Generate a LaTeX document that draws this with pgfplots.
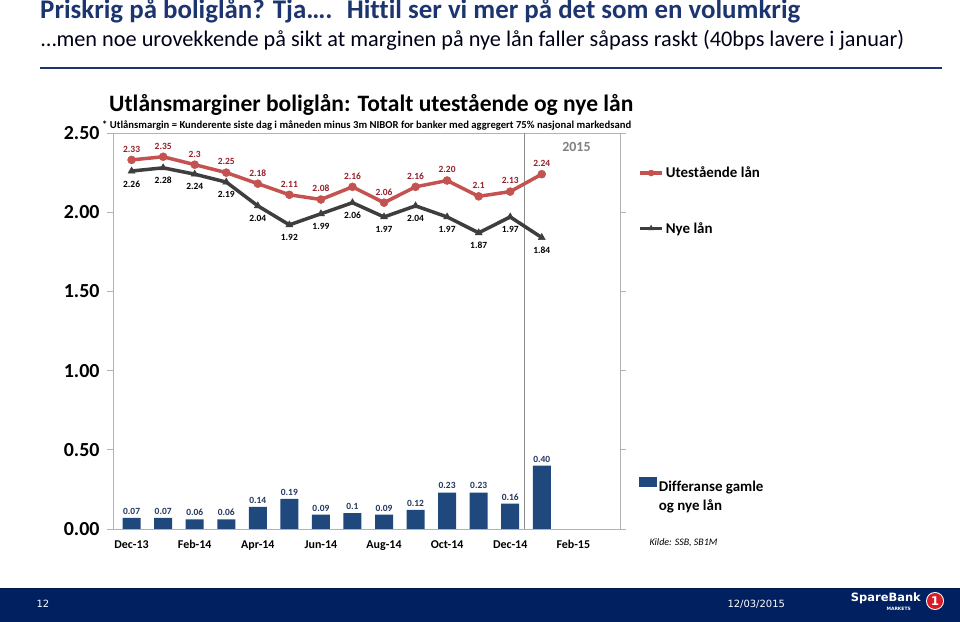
\documentclass[border=0pt]{standalone}
\usepackage{pgfplots}
\pgfplotsset{compat=1.18}
\usepackage{pgfplotstable}
\usepackage{graphicx}
\usepackage{fontspec}
\setmainfont{Carlito}[Ligatures=NoCommon]
\newfontfamily\dejavu{DejaVu Sans}
\definecolor{titleblue}{RGB}{28,52,112}
\definecolor{footnavy}{RGB}{0,32,96}
\definecolor{redline}{RGB}{196,82,80}
\definecolor{redlbl}{RGB}{150,32,42}
\definecolor{grayline}{RGB}{62,62,62}
\definecolor{barblue}{RGB}{31,73,125}
\definecolor{barlbl}{RGB}{35,55,95}
\definecolor{logored}{RGB}{215,30,40}
\pgfplotstableread{
x ut nye diff utl nyel diffl
0 2.33 2.26 0.07 2.33 2.26 0.07
1 2.35 2.28 0.07 2.35 2.28 0.07
2 2.30 2.24 0.06 2.3 2.24 0.06
3 2.25 2.19 0.06 2.25 2.19 0.06
4 2.18 2.04 0.14 2.18 2.04 0.14
5 2.11 1.92 0.19 2.11 1.92 0.19
6 2.08 1.99 0.09 2.08 1.99 0.09
7 2.16 2.06 0.10 2.16 2.06 0.1
8 2.06 1.97 0.09 2.06 1.97 0.09
9 2.16 2.04 0.12 2.16 2.04 0.12
10 2.20 1.97 0.23 2.20 1.97 0.23
11 2.10 1.87 0.23 2.1 1.87 0.23
12 2.13 1.97 0.16 2.13 1.97 0.16
13 2.24 1.84 0.40 2.24 1.84 0.40
}\data
\begin{document}
\begin{tikzpicture}
\useasboundingbox (0,0) rectangle (960bp,622bp);
\fill[white] (0,0) rectangle (960bp,622bp);
% slide title
\node[anchor=base west, inner sep=0pt, text=titleblue] at (40bp,603bp)
  {\resizebox{760bp}{!}{\bfseries Priskrig på boliglån? Tja…. \ Hittil ser vi mer på det som en volumkrig}};
\node[anchor=base west, inner sep=0pt, text=black!90!blue] at (41bp,575bp)
  {\resizebox{863bp}{!}{…men noe urovekkende på sikt at marginen på nye lån faller såpass raskt (40bps lavere i januar)}};
\draw[titleblue, line width=1.2bp] (40bp,554bp) -- (942bp,554bp);
% chart title
\node[anchor=base west, inner sep=0pt] at (109bp,510bp)
  {\resizebox{524bp}{!}{\bfseries Utlånsmarginer boliglån: Totalt utestående og nye lån}};
\node[anchor=base west, inner sep=0pt] at (102bp,493bp)
  {\resizebox{529bp}{!}{\bfseries * Utlånsmargin = Kunderente siste dag i måneden minus 3m NIBOR for banker med aggregert 75\% nasjonal markedsand}};
% bars axis
\begin{axis}[
  at={(113bp,93bp)}, anchor=south west, scale only axis,
  width=507bp, height=396bp,
  xmin=-0.59, xmax=15.48, ymin=0, ymax=2.5,
  axis line style={draw=black!30, line width=0.8bp},
  xtick={0,2,4,6,8,10,12,14},
  xticklabels={Dec-13,Feb-14,Apr-14,Jun-14,Aug-14,Oct-14,Dec-14,Feb-15},
  major x tick style={draw=none},
  ytick={0,0.5,1,1.5,2,2.5},
  tick align=outside, major tick length=6bp,
  major y tick style={draw=black!30, line width=0.8bp},
  yticklabel style={/pgf/number format/fixed, /pgf/number format/fixed zerofill,
    /pgf/number format/precision=2, /pgf/number format/assume math mode=true,
    font=\fontsize{20}{20}\selectfont\bfseries, xshift=-4bp},
  xticklabel style={font=\fontsize{12}{12}\selectfont\bfseries, yshift=-2bp},
  legend style={at={(1.031,0.139)}, anchor=north west, draw=none, fill=none,
    font=\fontsize{15}{19}\selectfont\bfseries, cells={anchor=west}},
  legend image code/.code={\fill[barblue] (0bp,3bp) rectangle (18bp,13bp);},
]
\addplot[ybar, bar width=18bp, fill=barblue, draw=none,
  point meta=explicit symbolic, nodes near coords,
  nodes near coords style={font=\fontsize{9.5}{9.5}\selectfont\bfseries, text=barlbl}]
  table[x=x, y=diff, meta=diffl] {\data};
\addlegendentry{\begin{tabular}{@{}l@{}}Differanse gamle\\og nye lån\end{tabular}}
\end{axis}
% lines axis
\begin{axis}[
  at={(113bp,93bp)}, anchor=south west, scale only axis,
  width=507bp, height=396bp,
  xmin=-0.59, xmax=15.48, ymin=0, ymax=2.5,
  hide axis, clip=false,
  legend style={at={(1.03,0.925)}, anchor=north west, draw=none, fill=none,
    font=\fontsize{15}{15}\selectfont\bfseries, row sep=39bp, cells={anchor=west}},
  legend image code/.code={\draw[mark repeat=2,mark phase=2,#1,mark size=3bp] plot coordinates {(0bp,0bp) (11bp,0bp) (22bp,0bp)};},
]
\addplot[forget plot, black!45, line width=1bp] coordinates {(12.45,0) (12.45,2.5)};
\addplot[redline, line width=3.5bp, mark=*, mark size=4bp, mark options={fill=redline, draw=redline, line width=0.5bp},
  point meta=explicit symbolic, nodes near coords,
  nodes near coords style={font=\fontsize{9.5}{9.5}\selectfont\bfseries, text=redlbl, yshift=4bp}]
  table[x=x, y=ut, meta=utl] {\data};
\addlegendentry{Utestående lån}
\addplot[grayline, line width=3.5bp, mark=triangle*, mark size=4bp, mark options={fill=grayline, draw=grayline, line width=0.5bp},
  point meta=explicit symbolic, nodes near coords, nodes near coords align=below,
  nodes near coords style={font=\fontsize{9.5}{9.5}\selectfont\bfseries, text=black, yshift=-6bp}]
  table[x=x, y=nye, meta=nyel] {\data};
\addlegendentry{Nye lån}
\node[font=\fontsize{14}{14}\selectfont\bfseries, text=black!50] at (axis cs:14.1,2.41) {2015};
\end{axis}
\node[anchor=west, font=\fontsize{10}{10}\selectfont\itshape] at (646bp,79bp) {Kilde: SSB, SB1M};
% footer
\fill[footnavy] (0,0) rectangle (960bp,34bp);
\draw[black!20!footnavy, line width=0.6bp] (0,34bp) -- (960bp,34bp);
\node[anchor=west, text=white, font=\dejavu\fontsize{10}{10}\selectfont] at (33bp,18bp) {12};
\node[anchor=west, text=white, font=\dejavu\fontsize{10}{10}\selectfont] at (724bp,18bp) {12/03/2015};
\node[anchor=east, inner sep=0pt, text=white, font=\dejavu\bfseries\fontsize{11.5}{11.5}\selectfont] at (921bp,24bp) {SpareBank};
\node[anchor=east, inner sep=0pt, text=white, font=\dejavu\bfseries\fontsize{4.5}{4.5}\selectfont] at (911bp,13bp) {MARKETS};
\fill[white] (935bp,21bp) circle (9bp);
\fill[logored] (935bp,21bp) circle (8bp);
\node[text=white, font=\dejavu\bfseries\fontsize{12}{12}\selectfont, inner sep=0pt] at (935bp,21bp) {1};
\end{tikzpicture}
\end{document}
